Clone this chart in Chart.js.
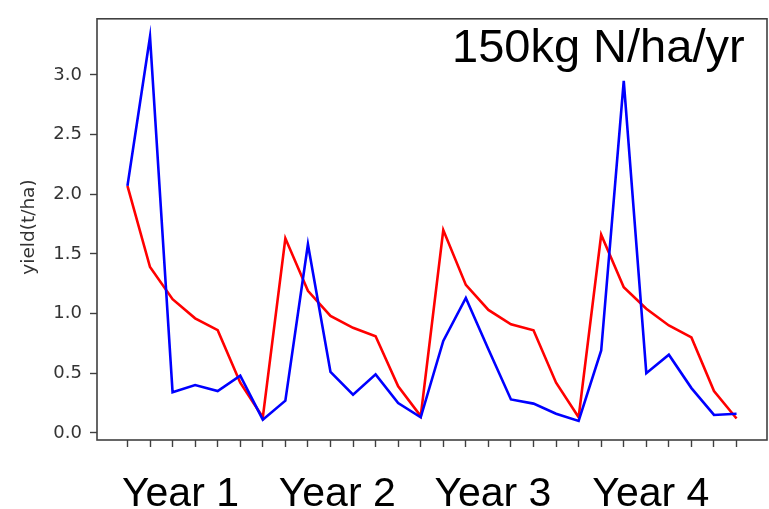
<!DOCTYPE html>
<html>
<head>
<meta charset="utf-8">
<script src="https://cdn.jsdelivr.net/npm/chart.js@4"></script>
<style>
	html, body { margin: 0; padding: 0; background: #fff; }
	#wrap { position: relative; width: 769px; height: 509px; }
</style>
</head>
<body>
<div id="wrap"><canvas id="c" width="769" height="509"></canvas></div>
<script>
/* yield per period, 150kg N/ha/yr */
const steps = Array.from({ length: 28 }, (_, i) => i);
const yieldBlue = [2.07, 3.32, 0.34, 0.40, 0.35, 0.48, 0.11, 0.27, 1.58, 0.51, 0.32, 0.49, 0.25, 0.13,
	0.77, 1.13, 0.70, 0.28, 0.245, 0.16, 0.10, 0.69, 2.95, 0.50, 0.655, 0.375, 0.15, 0.16];
const yieldRed = [2.07, 1.39, 1.12, 0.96, 0.86, 0.42, 0.13, 1.63, 1.19, 0.98, 0.88, 0.81, 0.39, 0.14,
	1.70, 1.24, 1.03, 0.91, 0.86, 0.42, 0.13, 1.66, 1.22, 1.04, 0.90, 0.80, 0.35, 0.12];
const yTicks = [0, 0.5, 1.0, 1.5, 2.0, 2.5, 3.0];
const yearLabels = ['Year 1', 'Year 2', 'Year 3', 'Year 4'];
const yearPos = [2.35, 9.3, 16.2, 23.2];
const rateLabel = '150kg N/ha/yr';
const yTitle = 'yield(t/ha)';

const axisColor = '#404040';

const annotate = {
	id: 'annotate',
	afterDraw(chart) {
		const ctx = chart.ctx;
		const a = chart.chartArea;
		const xs = chart.scales.x;
		ctx.save();
		// frame on all four sides
		ctx.strokeStyle = axisColor;
		ctx.lineWidth = 1.6;
		ctx.strokeRect(a.left, a.top, a.right - a.left, a.bottom - a.top);

		ctx.fillStyle = '#000';
		ctx.font = '47px "Liberation Sans", Arial, sans-serif';
		ctx.textAlign = 'left';
		ctx.textBaseline = 'alphabetic';
		ctx.fillText(rateLabel, 452, 62);

		ctx.font = '41px "Liberation Sans", Arial, sans-serif';
		ctx.textAlign = 'center';
		yearLabels.forEach((t, i) => {
			ctx.fillText(t, xs.getPixelForValue(yearPos[i]), 506);
		});

		ctx.fillStyle = '#333';
		ctx.font = '18.5px "DejaVu Sans", sans-serif';
		ctx.translate(29, 227);
		ctx.rotate(-Math.PI / 2);
		ctx.textBaseline = 'middle';
		ctx.fillText(yTitle, 0, 0);
		ctx.restore();
	},
};

new Chart(document.getElementById('c').getContext('2d'), {
	type: 'line',
	data: {
		labels: steps,
		datasets: [
			{ data: steps.map((s, i) => ({ x: s, y: yieldBlue[i] })), borderColor: '#0000ff', borderWidth: 2.6, pointRadius: 0, tension: 0 },
			{ data: steps.map((s, i) => ({ x: s, y: yieldRed[i] })), borderColor: '#ff0000', borderWidth: 2.6, pointRadius: 0, tension: 0 },
		],
	},
	options: {
		responsive: false,
		animation: false,
		layout: { padding: { top: 7, right: 2, left: 0, bottom: 0 } },
		plugins: { legend: { display: false }, tooltip: { enabled: false } },
		scales: {
			x: {
				type: 'linear',
				min: -1.35,
				max: 28.35,
				afterBuildTicks(scale) {
					scale.ticks = steps.map(v => ({ value: v }));
				},
				afterFit(scale) { scale.height = 69; },
				grid: { drawOnChartArea: false, tickLength: 7, tickColor: axisColor, tickWidth: 1.4 },
				border: { display: false },
				ticks: { callback: () => '', padding: 0 },
			},
			y: {
				min: -0.06,
				max: 3.47,
				afterBuildTicks(scale) {
					scale.ticks = yTicks.map(v => ({ value: v }));
				},
				afterFit(scale) { scale.width = 97; },
				grid: { drawOnChartArea: false, tickLength: 7, tickColor: axisColor, tickWidth: 1.4 },
				border: { display: false },
				ticks: {
					color: '#333',
					padding: 8,
					font: { family: '"DejaVu Sans", sans-serif', size: 18 },
					callback: v => v.toFixed(1),
				},
			},
		},
	},
	plugins: [annotate],
});
</script>
</body>
</html>
